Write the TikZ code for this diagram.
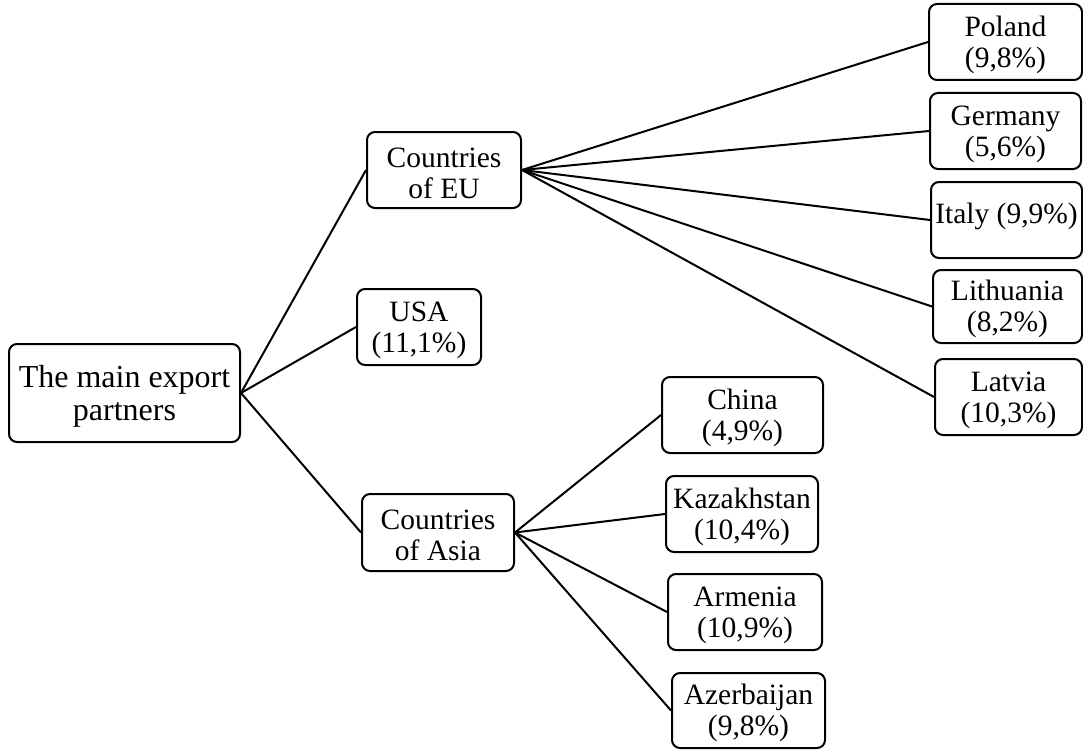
\documentclass[tikz,border=0pt]{standalone}
\usepackage{fontspec}
\setmainfont{Liberation Serif}
% struts that lower (\lo) or raise (\hi) the text inside a box
\newcommand\lo[1]{\rule{0pt}{#1}}
\newcommand\hi[1]{\rule[-#1]{0pt}{#1}}
\begin{document}
\begin{tikzpicture}[x=1pt,y=-1pt,
  box/.style={draw, line width=2pt, rounded corners=8pt, inner sep=0pt,
    align=center, font=\fontsize{29.5}{31}\selectfont},
  link/.style={line width=2pt}]
\useasboundingbox (0,0) rectangle (1083,749);

% root
\node[box, minimum width=231pt, minimum height=98pt,
  font=\fontsize{32}{33}\selectfont] (root) at (124.5,393) {\lo{29pt}The main export\\partners};

% second level
\node[box, minimum width=154pt, minimum height=76pt] (eu)   at (444,170)   {\lo{26pt}Countries\\of EU};
\node[box, minimum width=124pt, minimum height=76pt] (usa)  at (419,327)   {\lo{26pt}USA\\(11,1\%)};
\node[box, minimum width=152pt, minimum height=77pt] (asia) at (438,532.5) {\lo{26pt}Countries\\of Asia};

% EU countries
\node[box, minimum width=153pt, minimum height=76pt] (pol) at (1005.5,42)  {\lo{26pt}Poland\\(9,8\%)};
\node[box, minimum width=151pt, minimum height=76pt] (ger) at (1005.5,131) {\lo{26pt}Germany\\(5,6\%)};
\node[box, minimum width=151pt, minimum height=76pt] (ita) at (1006.5,220) {Italy (9,9\%)\hi{14pt}};
\node[box, minimum width=149pt, minimum height=73pt] (lit) at (1007.5,306.5) {\lo{26pt}Lithuania\\(8,2\%)};
\node[box, minimum width=147pt, minimum height=76pt] (lat) at (1008.5,397) {\lo{26pt}Latvia\\(10,3\%)};

% Asian countries
\node[box, minimum width=161pt, minimum height=76pt] (chn) at (742.5,415)   {\lo{26pt}China\\(4,9\%)};
\node[box, minimum width=152pt, minimum height=76pt] (kaz) at (742,514)     {\lo{26pt}Kazakhstan\\(10,4\%)};
\node[box, minimum width=154pt, minimum height=76pt] (arm) at (745,612)     {\lo{26pt}Armenia\\(10,9\%)};
\node[box, minimum width=153pt, minimum height=75pt] (aze) at (748.5,710.5) {\lo{26pt}Azerbaijan\\(9,8\%)};

% connectors
\foreach \t in {eu,usa,asia} \draw[link] (root.east) -- (\t.west);
\foreach \t in {pol,ger,ita,lit,lat} \draw[link] (eu.east) -- (\t.west);
\foreach \t in {chn,kaz,arm,aze} \draw[link] (asia.east) -- (\t.west);
\end{tikzpicture}
\end{document}
